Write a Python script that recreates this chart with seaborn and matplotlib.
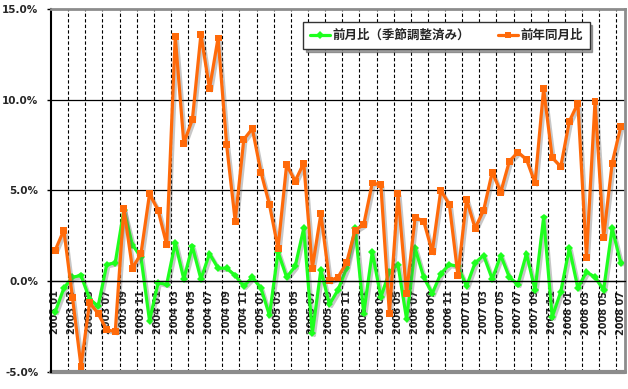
"""Monthly change chart: month-on-month (seasonally adjusted) vs year-on-year."""
import matplotlib

matplotlib.use("Agg")
import matplotlib.patheffects as pe
import matplotlib.pyplot as plt
import numpy as np
import pandas as pd
import seaborn as sns

# Categories: 2003/01 .. 2008/07
months = [p.strftime("%Y %m") for p in pd.period_range("2003-01", "2008-07", freq="M")]

# 前月比（季節調整済み）, %
mom = [-1.7, -0.4, 0.2, 0.3, -1.0, -1.4, 0.9, 1.0, 3.9, 2.0,
       1.3, -2.2, -0.1, -0.2, 2.1, 0.1, 1.9, 0.1, 1.5, 0.7,
       0.7, 0.3, -0.3, 0.2, -0.4, -1.9, 1.6, 0.2, 0.8, 2.9,
       -2.9, 0.6, -1.3, -0.5, 0.7, 2.9, -1.8, 1.6, -0.9, 0.5,
       0.9, -2.1, 1.8, 0.2, -0.7, 0.4, 0.9, 0.8, -0.3, 1.0,
       1.4, 0.1, 1.4, 0.2, -0.2, 1.5, -0.5, 3.5, -2.0, -0.6,
       1.8, -0.4, 0.5, 0.2, -0.5, 2.9, 1.0]

# 前年同月比, %
yoy = [1.7, 2.8, -0.9, -4.7, -1.2, -1.8, -2.7, -2.8, 4.0, 0.7,
       1.5, 4.8, 3.9, 2.0, 13.5, 7.6, 8.9, 13.6, 10.6, 13.4,
       7.5, 3.3, 7.8, 8.4, 6.0, 4.2, 1.8, 6.4, 5.5, 6.5,
       0.7, 3.7, 0.0, 0.2, 1.0, 2.8, 3.1, 5.4, 5.3, -1.8,
       4.8, -0.7, 3.5, 3.3, 1.6, 5.0, 4.2, 0.3, 4.5, 2.9,
       3.9, 6.0, 4.9, 6.6, 7.1, 6.7, 5.4, 10.6, 6.8, 6.3,
       8.8, 9.8, 1.3, 9.9, 2.4, 6.5, 8.5]

series_names = ["前月比（季節調整済み）", "前年同月比"]
yticks = [-5, 0, 5, 10, 15]


def main() -> None:
    sns.set_theme(style="white")
    plt.rcParams["font.family"] = ["DejaVu Sans", "Noto Sans CJK JP"]

    fig = plt.figure(figsize=(6.28, 3.89), dpi=100)
    ax = fig.add_axes([51 / 628, 1 - 371.5 / 389, 574 / 628, 362.5 / 389])

    # move the category axis to 0% first (this resets tick settings)
    ax.spines["bottom"].set_position(("data", 0))

    idx = np.arange(len(months))
    shadow = [pe.SimpleLineShadow(offset=(1.5, -1.5), shadow_color="#606060", alpha=0.35), pe.Normal()]

    # Month-on-month
    sns.lineplot(x=idx, y=mom, ax=ax, color="#1EFF1E", linewidth=2.3,
                 marker="D", markersize=4, markeredgewidth=0, label=series_names[0])
    # Year-on-year
    sns.lineplot(x=idx, y=yoy, ax=ax, color="#FF6A0A", linewidth=2.3,
                 marker="s", markersize=5, markeredgewidth=0, label=series_names[1])
    for line in ax.get_lines():
        line.set_path_effects(shadow)

    ax.set_xlim(-0.5, len(months) - 0.5)
    ax.set_ylim(-5, 15)

    # Category ticks / dashed separators every two months
    ax.set_xticks(idx[::2])
    ax.set_xticklabels(months[::2], rotation=90, fontsize=7, fontweight="bold", va="top")
    ax.set_xticks(np.arange(1.5, len(months) - 1, 2), minor=True)
    ax.tick_params(axis="x", which="both", length=0, pad=7)
    ax.grid(False)
    ax.grid(which="minor", axis="x", color="black", linestyle=(0, (3, 2)), linewidth=0.8)

    ax.set_yticks(yticks)
    ax.set_yticklabels([f"{v:.1f}%" for v in yticks], fontsize=7.5, fontweight="bold")
    ax.tick_params(axis="y", length=3, width=1, direction="out", color="black", pad=6, left=True)
    for v in yticks[1:-1]:
        ax.axhline(v, color="black", linewidth=0.9, zorder=1)

    ax.spines["bottom"].set_color("black")
    ax.spines["bottom"].set_linewidth(0.9)
    ax.spines["left"].set_color("black")
    ax.spines["left"].set_linewidth(1.5)
    for side in ["top", "right"]:
        ax.spines[side].set_color("#8C8C8C")
        ax.spines[side].set_linewidth(2)
    ax.axhline(-5, color="#8C8C8C", linewidth=3, clip_on=False)

    ax.legend_.remove()
    handles, labels = ax.get_legend_handles_labels()
    leg = fig.legend(handles, labels, loc="upper left", bbox_to_anchor=(297 / 628, 1 - 16 / 389),
                     bbox_transform=fig.transFigure, ncol=2, frameon=True, fancybox=False,
                     shadow=True, handlelength=1.6, handletextpad=0.2, columnspacing=2.2,
                     borderpad=0.55, prop={"family": "Noto Sans CJK JP", "weight": "bold", "size": 9})
    leg.get_frame().set_edgecolor("#333333")
    leg.get_frame().set_linewidth(1)
    for h in leg.legend_handles:
        h.set_path_effects([])

    plt.savefig("out.png", dpi=100)
    plt.close()


if __name__ == "__main__":
    main()
